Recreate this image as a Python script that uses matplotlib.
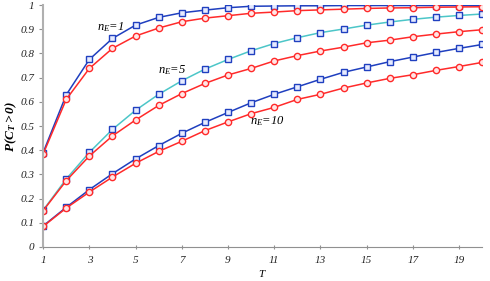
import numpy as np
import matplotlib.pyplot as plt

# Daten
T = np.arange(1, 21)

# n_E = 1
p1_blau = [0.390, 0.629, 0.775, 0.862, 0.917, 0.949, 0.968, 0.979, 0.989, 0.995,
           0.996, 0.997, 0.997, 0.998, 0.998, 0.998, 0.998, 0.998, 0.998, 0.998]
p1_rot = [0.384, 0.610, 0.738, 0.821, 0.872, 0.905, 0.931, 0.946, 0.956, 0.966,
          0.971, 0.977, 0.980, 0.983, 0.986, 0.988, 0.989, 0.991, 0.992, 0.993]

# n_E = 5
p5_blau = [0.152, 0.281, 0.391, 0.486, 0.565, 0.631, 0.687, 0.735, 0.775, 0.811,
           0.841, 0.865, 0.886, 0.901, 0.917, 0.930, 0.941, 0.950, 0.957, 0.963]
p5_rot = [0.150, 0.274, 0.376, 0.459, 0.525, 0.585, 0.634, 0.676, 0.711, 0.738,
          0.769, 0.791, 0.810, 0.826, 0.844, 0.855, 0.869, 0.880, 0.890, 0.898]

# n_E = 10
p10_blau = [0.087, 0.164, 0.237, 0.303, 0.364, 0.419, 0.470, 0.515, 0.556, 0.596,
            0.631, 0.662, 0.693, 0.722, 0.744, 0.766, 0.785, 0.804, 0.821, 0.837]
p10_rot = [0.085, 0.161, 0.227, 0.289, 0.346, 0.395, 0.437, 0.481, 0.517, 0.551,
           0.577, 0.610, 0.631, 0.657, 0.678, 0.697, 0.712, 0.730, 0.746, 0.763]

x_ticks = [1, 3, 5, 7, 9, 11, 13, 15, 17, 19]
y_ticks = [0, 0.1, 0.2, 0.3, 0.4, 0.5, 0.6, 0.7, 0.8, 0.9, 1]
y_labels = ["0", "0.1", "0.2", "0.3", "0.4", "0.5", "0.6", "0.7", "0.8", "0.9", "1"]

plt.rcParams['font.family'] = ['Liberation Serif', 'DejaVu Serif']
plt.rcParams['mathtext.fontset'] = 'custom'
plt.rcParams['mathtext.it'] = 'Liberation Serif:italic'
plt.rcParams['mathtext.rm'] = 'Liberation Serif'
plt.rcParams['mathtext.bf'] = 'Liberation Serif:bold:italic'

fig = plt.figure(figsize=(4.9, 2.81), dpi=100)
ax = fig.add_axes([0.088, 0.121, 0.896, 0.861])

blau = "#1f3fbf"
cyan = "#4cc6c8"
rot = "#ff2a2a"
quad = dict(marker="s", markersize=4.5, markerfacecolor="#e6ebff",
            markeredgecolor="#2040c0", markeredgewidth=1.0)
kreis = dict(marker="o", markersize=4.5, markerfacecolor="#ffe6e6",
             markeredgecolor=rot, markeredgewidth=1.0)

ax.plot(T, p10_blau, color=blau, lw=1.1, **quad)
ax.plot(T, p10_rot, color=rot, lw=1.1, **kreis)
ax.plot(T, p5_blau, color=cyan, lw=1.1, **quad)
ax.plot(T, p5_rot, color=rot, lw=1.1, **kreis)
ax.plot(T, p1_blau, color=blau, lw=1.1, **quad)
ax.plot(T, p1_rot, color=rot, lw=1.1, **kreis)

ax.text(3.35, 0.91, r"$n_E$=1", fontsize=9, style="italic", va="center")
ax.text(5.95, 0.73, r"$n_E$=5", fontsize=9, style="italic", va="center")
ax.text(9.95, 0.52, r"$n_E$=10", fontsize=9, style="italic", va="center")

ax.set_xlim(1, 20)
ax.set_ylim(0, 1)
ax.set_xticks(x_ticks)
ax.set_yticks(y_ticks)
ax.set_yticklabels(y_labels)
for lab in ax.get_xticklabels() + ax.get_yticklabels():
    lab.set_fontstyle("italic")
    lab.set_fontsize(8)

ax.spines["top"].set_visible(False)
ax.spines["right"].set_visible(False)
ax.spines["left"].set_color("#b0b0b0")
ax.spines["bottom"].set_color("#909090")
ax.spines["left"].set_linewidth(1.5)
ax.tick_params(axis="both", colors="#909090", labelcolor="#222222", length=3, width=0.8)
ax.tick_params(axis="x", direction="inout", pad=5)

ax.set_xlabel(r"$T$", fontsize=8, labelpad=2)
ax.set_ylabel(r"$\mathbf{P(C_T>0)}$", fontsize=9.5)
ax.yaxis.set_label_coords(-0.056, 0.5)

fig.savefig("out.png", dpi=100)
